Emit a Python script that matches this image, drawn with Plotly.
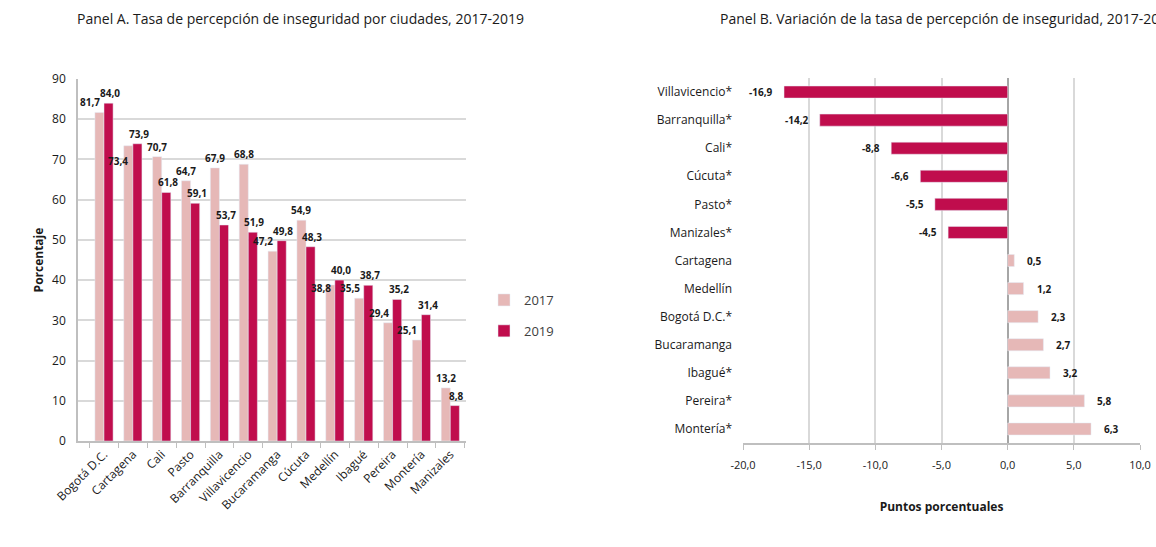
import plotly.graph_objects as go

# ---------------- data ----------------
cities_a = ["Bogotá D.C.", "Cartagena", "Cali", "Pasto", "Barranquilla", "Villavicencio",
            "Bucaramanga", "Cúcuta", "Medellín", "Ibagué", "Pereira", "Montería", "Manizales"]
rate_2017 = [81.7, 73.4, 70.7, 64.7, 67.9, 68.8, 47.2, 54.9, 38.8, 35.5, 29.4, 25.1, 13.2]
rate_2019 = [84.0, 73.9, 61.8, 59.1, 53.7, 51.9, 49.8, 48.3, 40.0, 38.7, 35.2, 31.4, 8.8]

cities_b = ["Villavicencio*", "Barranquilla*", "Cali*", "Cúcuta*", "Pasto*", "Manizales*",
            "Cartagena", "Medellín", "Bogotá D.C.*", "Bucaramanga", "Ibagué*", "Pereira*", "Montería*"]
change_b = [-16.9, -14.2, -8.8, -6.6, -5.5, -4.5, 0.5, 1.2, 2.3, 2.7, 3.2, 5.8, 6.3]

y_ticks_a = [0, 10, 20, 30, 40, 50, 60, 70, 80, 90]
x_ticks_b = [-20, -15, -10, -5, 0, 5, 10]

# ---------------- style ----------------
PINK = "#E6B8B7"
CRIMSON = "#C00D4D"
GRID = "#D9D9D9"
TXT = "#1a1a1a"
FONT = "Open Sans"

W, H = 1156, 547


def fmt(v):
    return f"{v:.1f}".replace(".", ",")


fig = go.Figure()

fig.add_bar(x=cities_a, y=rate_2017, name="2017", marker_color=PINK,
            xaxis="x", yaxis="y", legendgroup="g17")
fig.add_bar(x=cities_a, y=rate_2019, name="2019", marker_color=CRIMSON,
            xaxis="x", yaxis="y", legendgroup="g19")

fig.add_bar(x=change_b, y=cities_b, orientation="h", width=0.43,
            marker_color=[CRIMSON if v < 0 else PINK for v in change_b],
            xaxis="x2", yaxis="y2", showlegend=False)

annotations = []
label_font = dict(family=FONT, size=10, color=TXT)
bold = lambda s: f"<b>{s}</b>"

# Panel A labels
half = 4.7
for c, a, b in zip(cities_a, rate_2017, rate_2019):
    if b > a:
        d = b - a
        if d < 1:
            ya, ys, xs = "top", -6, -3
        elif d < 2:
            ya, ys, xs = "middle", -3, -2
        else:
            ya, ys, xs = "bottom", 1, -2
        annotations.append(dict(x=c, y=a, xref="x", yref="y", text=bold(fmt(a)),
                                showarrow=False, xanchor="right", yanchor=ya,
                                xshift=xs, yshift=ys, font=label_font))
    else:
        annotations.append(dict(x=c, y=a, xref="x", yref="y", text=bold(fmt(a)),
                                showarrow=False, xanchor="center", yanchor="bottom",
                                xshift=-half, yshift=1, font=label_font))
    annotations.append(dict(x=c, y=b, xref="x", yref="y", text=bold(fmt(b)),
                            showarrow=False, xanchor="center", yanchor="bottom",
                            xshift=half + 1.5, yshift=1, font=label_font))

# Panel B labels
for c, v in zip(cities_b, change_b):
    annotations.append(dict(x=v, y=c, xref="x2", yref="y2", text=bold(fmt(v)),
                            showarrow=False, xanchor="right" if v < 0 else "left",
                            yanchor="middle", xshift=-9 if v < 0 else 11,
                            font=label_font))

# Titles
annotations.append(dict(x=75 / W, y=1 - 18 / H, xref="paper", yref="paper",
                        text="Panel A. Tasa de percepción de inseguridad por ciudades, 2017-2019",
                        showarrow=False, xanchor="left", yanchor="middle",
                        font=dict(family=FONT, size=14, color=TXT)))
annotations.append(dict(x=718 / W, y=1 - 18 / H, xref="paper", yref="paper",
                        text="Panel B. Variación de la tasa de percepción de inseguridad, 2017-2019",
                        showarrow=False, xanchor="left", yanchor="middle",
                        font=dict(family=FONT, size=14, color=TXT)))

n_b = len(cities_b)

fig.update_layout(
    width=W, height=H,
    margin=dict(l=0, r=0, t=0, b=0, autoexpand=False),
    paper_bgcolor="white", plot_bgcolor="white",
    font=dict(family=FONT, size=12, color=TXT),
    barmode="group", bargap=0.37, bargroupgap=0.0,
    annotations=annotations,
    legend=dict(x=484 / W, y=1 - 285 / H, xanchor="left", yanchor="top",
                font=dict(family=FONT, size=13, color="#404040"),
                tracegroupgap=11, traceorder="grouped", bgcolor="rgba(0,0,0,0)"),
    xaxis=dict(domain=[78 / W, 466 / W], anchor="y", automargin=False,
               showline=True, linecolor="#BFBFBF", linewidth=1.5,
               ticks="outside", tickson="boundaries", ticklen=5, tickcolor="#BFBFBF",
               tickangle=-45, tickfont=dict(family=FONT, size=12, color=TXT),
               showgrid=False),
    yaxis=dict(domain=[1 - 441 / H, 1 - 79 / H], anchor="x", range=[0, 90],
               automargin=False,
               tickvals=y_ticks_a, ticktext=[str(t) for t in y_ticks_a],
               showline=True, linecolor="#BFBFBF", linewidth=1.5,
               showgrid=True, gridcolor=GRID, gridwidth=1.5, zeroline=False,
               ticks="", ticklabelstandoff=8,
               tickfont=dict(family=FONT, size=12, color=TXT),
               title=dict(text="<b>Porcentaje</b>", standoff=6,
                          font=dict(family=FONT, size=12, color=TXT))),
    xaxis2=dict(domain=[743 / W, 1140 / W], anchor="y2", range=[-20, 10],
                automargin=False,
                tickvals=x_ticks_b, ticktext=[fmt(t) for t in x_ticks_b],
                showline=True, linecolor="#BFBFBF", linewidth=1.5,
                showgrid=True, gridcolor=GRID, gridwidth=1.5,
                zeroline=True, zerolinecolor="#A6A6A6", zerolinewidth=1.5,
                ticks="outside", ticklen=5, tickcolor="#BFBFBF",
                ticklabelstandoff=6,
                tickfont=dict(family=FONT, size=11, color=TXT),
                title=dict(text="<b>Puntos porcentuales</b>", standoff=32,
                           font=dict(family=FONT, size=12, color=TXT))),
    yaxis2=dict(domain=[1 - 443 / H, 1 - 78 / H], anchor="x2", autorange="reversed",
                automargin=False,
                showline=False, showgrid=False, ticks="", ticklabelstandoff=10,
                tickfont=dict(family=FONT, size=12, color=TXT)),
    # axis drawn at the zero line of panel B, with ticks at category boundaries
    yaxis3=dict(domain=[1 - 443 / H, 1 - 78 / H], anchor="free",
                overlaying="y2", position=(743 + (1140 - 743) * 20 / 30) / W,
                side="left", range=[n_b - 0.5, -0.5], automargin=False,
                tickvals=[i - 0.5 for i in range(n_b + 1)],
                showticklabels=False, showline=True, linecolor="#A6A6A6",
                linewidth=1.5, ticks="outside", ticklen=4, tickcolor="#A6A6A6",
                showgrid=False, zeroline=False),
)

fig.write_html("out.html",
               config={"displayModeBar": False},
               post_script="document.body.style.margin='0';document.body.style.overflow='hidden';")
